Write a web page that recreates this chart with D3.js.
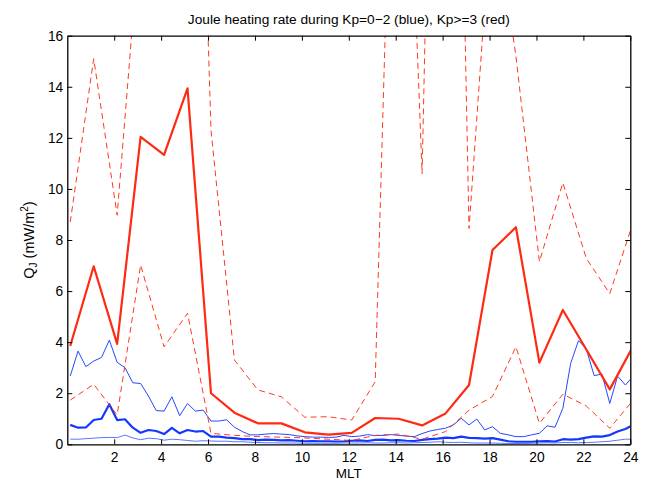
<!DOCTYPE html>
<html>
<head>
<meta charset="utf-8">
<script src="https://cdn.jsdelivr.net/npm/d3@7"></script>
<style>
	body { margin: 0; background: #fff; }
	svg { display: block; font-family: Helvetica, Arial, "Liberation Sans", sans-serif; }
	.tick text { font-size: 13.8px; fill: #000; }
	.tick line, .domain { stroke: #000; }
</style>
</head>
<body>
<div class="chart"></div>
<script>

// MLT bin centres
var mltHourly = [0.125, 1.125, 2.125, 3.125, 4.125, 5.125, 6.125, 7.125, 8.125, 9.125, 10.125, 11.125,
	12.125, 13.125, 14.125, 15.125, 16.125, 17.125, 18.125, 19.125, 20.125, 21.125, 22.125, 23.125, 24.125];
var mlt20min = d3.range(73).map(function(k) { return k / 3 + 0.125; });

// Kp>=3 (red), hourly, last value wraps round to MLT 0
var redMean  = [3.85, 6.97, 3.93, 12.04, 11.33, 13.94, 2.0, 1.24, 0.82, 0.82, 0.47, 0.38,
	0.45, 1.03, 1.0, 0.74, 1.21, 2.32, 7.61, 8.5, 3.2, 5.26, 3.71, 2.15, 3.85];
var redUpper = [8.7, 15.1, 8.97, 20.4, 25, 42, 12.3, 3.3, 2.13, 1.86, 1.06, 1.08,
	0.95, 2.45, 34.4, 10.6, 54, 8.45, 21.5, 15.2, 7.15, 10.24, 7.28, 5.9, 8.7];
var redLower = [1.73, 2.35, 1.15, 7.02, 3.82, 5.13, 0.43, 0.35, 0.3, 0.28, 0.25, 0.2,
	0.15, 0.35, 0.4, 0.2, 0.5, 1.34, 1.87, 3.82, 0.82, 1.96, 1.5, 0.63, 1.73];

// Kp=0-2 (blue), 20 min bins
var blueMean = [0.76, 0.65, 0.66, 0.95, 1.0, 1.57, 0.95, 0.98, 0.65, 0.45, 0.56, 0.52, 0.4, 0.64, 0.43, 0.56, 0.5, 0.52, 0.3, 0.3, 0.26, 0.24, 0.2, 0.2, 0.16,
	0.18, 0.17, 0.15, 0.16, 0.14, 0.12, 0.13, 0.12, 0.12, 0.11, 0.12, 0.14, 0.15, 0.13, 0.17, 0.18, 0.15, 0.16, 0.14, 0.13, 0.17, 0.2, 0.22,
	0.26, 0.24, 0.3, 0.25, 0.24, 0.22, 0.24, 0.18, 0.12, 0.1, 0.1, 0.1, 0.12, 0.13, 0.11, 0.2, 0.18, 0.2, 0.26, 0.31, 0.3, 0.36, 0.5, 0.6, 0.76];
var blueUpper = [2.67, 3.65, 3.04, 3.26, 3.4, 4.08, 3.21, 3.0, 2.41, 2.38, 1.89, 1.32, 1.3, 1.86, 1.12, 1.6, 1.3, 1.34, 0.91, 0.91, 0.96, 0.67, 0.5, 0.37, 0.37,
	0.4, 0.42, 0.4, 0.38, 0.33, 0.3, 0.28, 0.28, 0.27, 0.28, 0.35, 0.3, 0.32, 0.38, 0.34, 0.35, 0.38, 0.35, 0.32, 0.3, 0.42,
	0.52, 0.58, 0.63, 0.76, 1.02, 0.76, 0.99, 0.56, 0.69, 0.43, 0.37, 0.3, 0.3, 0.37, 0.43, 0.72, 0.67, 1.41, 3.17, 4.06, 3.73, 2.69, 2.75, 1.6, 2.67, 2.32, 2.67];
var blueLower = [0.2, 0.2, 0.22, 0.24, 0.26, 0.27, 0.26, 0.36, 0.25, 0.18, 0.24, 0.22, 0.16, 0.2, 0.18, 0.15, 0.12, 0.14, 0.13, 0.12, 0.12, 0.1, 0.1, 0.08, 0.07,
	0.06, 0.06, 0.05, 0.05, 0.05, 0.04, 0.04, 0.04, 0.04, 0.04, 0.05, 0.05, 0.05, 0.06, 0.05, 0.05, 0.06, 0.06, 0.05, 0.06, 0.07, 0.08, 0.1,
	0.08, 0.07, 0.08, 0.06, 0.05, 0.05, 0.05, 0.04, 0.03, 0.03, 0.03, 0.04, 0.05, 0.06, 0.05, 0.07, 0.07, 0.06, 0.07, 0.08, 0.1, 0.12, 0.16, 0.2, 0.2];

var xTicks = [2, 4, 6, 8, 10, 12, 14, 16, 18, 20, 22, 24];
var yTicks = [0, 2, 4, 6, 8, 10, 12, 14, 16];

var joulePlot = (function() {

	var width = 649, height = 481;
	var margin = { top: 35.7, right: 18.7, bottom: 36.7, left: 67.3 };
	var w = width - margin.left - margin.right;
	var h = height - margin.top - margin.bottom;

	var x = d3.scaleLinear().domain([0, 24]).range([0, w]);
	var y = d3.scaleLinear().domain([0, 16]).range([h, 0]);

	var init = function() {
		var svg = d3.select('.chart')
			.append('svg')
			.attr('width', width)
			.attr('height', height);

		svg.append('defs').append('clipPath')
			.attr('id', 'plotclip')
			.append('rect')
			.attr('width', w)
			.attr('height', h);

		var g = svg.append('g')
			.attr('transform', 'translate(' + margin.left + ',' + margin.top + ')');

		var lines = g.append('g').attr('clip-path', 'url(#plotclip)');

		drawLine(lines, mlt20min, blueLower, '#5577ff', 1, null);
		drawLine(lines, mlt20min, blueUpper, '#2448ff', 1, null);
		drawLine(lines, mlt20min, blueMean, '#1437ff', 2.2, null);

		drawLine(lines, mltHourly, redUpper, '#ff3a1e', 1, '6,4');
		drawLine(lines, mltHourly, redLower, '#ff3a1e', 1, '6,4');
		drawLine(lines, mltHourly, redMean, '#ff2a12', 2.2, null);

		drawAxes(g);
		drawLabels(svg);
	};

	var drawLine = function(parent, xs, ys, colour, lw, dash) {
		var line = d3.line()
			.x(function(d, i) { return x(xs[i]); })
			.y(function(d) { return y(d); });

		parent.append('path')
			.datum(ys)
			.attr('d', line)
			.attr('fill', 'none')
			.attr('stroke', colour)
			.attr('stroke-width', lw)
			.attr('stroke-linejoin', 'round')
			.attr('stroke-dasharray', dash);
	};

	var drawAxes = function(g) {
		g.append('g')
			.attr('transform', 'translate(0,' + h + ')')
			.call(d3.axisBottom(x).tickValues(xTicks).tickSize(-5).tickSizeOuter(0).tickPadding(8));

		g.append('g')
			.call(d3.axisTop(x).tickValues(xTicks).tickSize(-5).tickSizeOuter(0).tickFormat(''));

		g.append('g')
			.call(d3.axisLeft(y).tickValues(yTicks).tickSize(-5).tickSizeOuter(0).tickPadding(4));

		g.append('g')
			.attr('transform', 'translate(' + w + ',0)')
			.call(d3.axisRight(y).tickValues(yTicks).tickSize(-5).tickSizeOuter(0).tickFormat(''));

		g.selectAll('.domain').attr('stroke-width', 1.3);
		g.selectAll('.tick line').attr('stroke-width', 1);
		g.selectAll('.tick text').attr('font-family', null).attr('font-size', null);
	};

	var drawLabels = function(svg) {
		var cx = margin.left + w / 2;

		svg.append('text')
			.attr('x', cx)
			.attr('y', 24)
			.attr('text-anchor', 'middle')
			.attr('font-size', 13.7)
			.text('Joule heating rate during Kp=0\u22122 (blue), Kp>=3 (red)');

		svg.append('text')
			.attr('x', cx)
			.attr('y', 478)
			.attr('text-anchor', 'middle')
			.attr('font-size', 13.5)
			.text('MLT');

		var yl = svg.append('text')
			.attr('transform', 'translate(34,' + (margin.top + h / 2) + ') rotate(-90)')
			.attr('text-anchor', 'middle')
			.attr('font-size', 14.5);
		yl.append('tspan').text('Q');
		yl.append('tspan').attr('font-size', 10).attr('dy', 3).text('J');
		yl.append('tspan').attr('dy', -3).text(' (mW/m');
		yl.append('tspan').attr('font-size', 10).attr('dy', -6).text('2');
		yl.append('tspan').attr('dy', 6).text(')');
	};

	return {
		'init': init
	};

})();

joulePlot.init();
</script>
</body>
</html>
